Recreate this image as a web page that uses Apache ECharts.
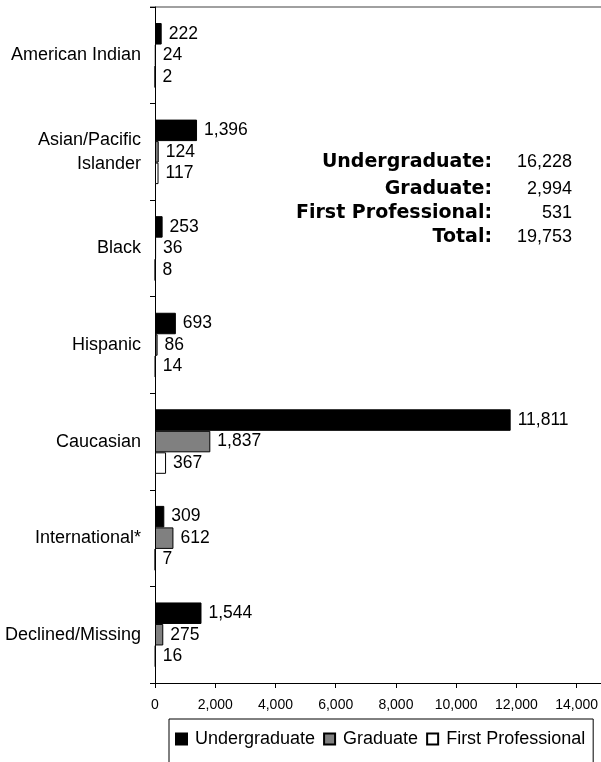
<!DOCTYPE html>
<html>
<head>
<meta charset="utf-8">
<script src="https://cdn.jsdelivr.net/npm/echarts@6/dist/echarts.min.js"></script>
<style>
  html, body { margin: 0; padding: 0; background: #fff; }
  #main { width: 601px; height: 762px; }
</style>
</head>
<body>
<div id="main"></div>
<script>
// categories, top to bottom
var categories = ['American Indian', 'Asian/Pacific\nIslander', 'Black', 'Hispanic', 'Caucasian', 'International*', 'Declined/Missing']
var undergraduate = [222, 1396, 253, 693, 11811, 309, 1544]
var graduate = [24, 124, 36, 86, 1837, 612, 275]
var firstProfessional = [2, 117, 8, 14, 367, 7, 16]

// totals box
var totalLabels = ['Undergraduate:', 'Graduate:', 'First Professional:', 'Total:']
var totalValues = ['16,228', '2,994', '531', '19,753']

var FONT = '"Liberation Sans", Arial, sans-serif'

function fmt(v) {
  return Number(v).toLocaleString('en-US')
}

function barSeries(name, data, color) {
  return {
    name: name,
    type: 'bar',
    data: data,
    barWidth: 21.5,
    barGap: '0%',
    itemStyle: { color: color, borderColor: '#000', borderWidth: 1 },
    label: {
      show: true,
      position: 'right',
      distance: 7,
      color: '#000',
      fontFamily: FONT,
      fontSize: 17.5,
      formatter: function(p) { return fmt(p.value) }
    },
    animation: false
  }
}

var myChart = echarts.init(document.getElementById('main'), null, { renderer: 'canvas' })

// totals text block
var graphics = []
var rowY = [162, 189, 213, 237]
for (var i = 0; i < totalLabels.length; i++) {
  graphics.push({
    type: 'text', x: 492, y: rowY[i],
    style: { text: totalLabels[i], align: 'right', verticalAlign: 'middle', fill: '#000',
      font: 'bold 19px "DejaVu Sans", sans-serif' }
  })
  graphics.push({
    type: 'text', x: 572, y: rowY[i],
    style: { text: totalValues[i], align: 'right', verticalAlign: 'middle', fill: '#000',
      font: '18px ' + FONT }
  })
}
// grey top border of the plot and the axis running off to the right
graphics.push({ type: 'line', shape: { x1: 150, y1: 7, x2: 601, y2: 7 }, style: { stroke: '#808080', lineWidth: 1.5 } })
graphics.push({ type: 'line', shape: { x1: 155, y1: 683.5, x2: 601, y2: 683.5 }, style: { stroke: '#000', lineWidth: 1 } })

var option = {
  backgroundColor: '#fff',
  animation: false,
  grid: { left: 155, right: 24, top: 7, bottom: 79, containLabel: false },
  legend: {
    data: ['Undergraduate', 'Graduate', 'First Professional'],
    left: 169,
    top: 719,
    orient: 'horizontal',
    icon: 'rect',
    itemWidth: 11,
    itemHeight: 11,
    itemGap: 8,
    padding: [11, 8, 40, 6],
    borderColor: '#000',
    borderWidth: 1,
    textStyle: { color: '#000', fontFamily: FONT, fontSize: 18, padding: [0, 0, 0, 3] }
  },
  xAxis: {
    type: 'value',
    min: 0,
    max: 14000,
    interval: 2000,
    splitLine: { show: false },
    axisLine: { show: true, onZero: false, lineStyle: { color: '#000', width: 1 } },
    axisTick: { show: true, length: 5, lineStyle: { color: '#000' } },
    axisLabel: {
      color: '#000', fontFamily: FONT, fontSize: 14, margin: 15,
      formatter: function(v) { return fmt(v) }
    }
  },
  yAxis: {
    type: 'category',
    data: categories,
    inverse: true,
    axisLine: { show: true, lineStyle: { color: '#000', width: 1 } },
    axisTick: { show: true, length: 5, lineStyle: { color: '#000' } },
    axisLabel: { color: '#000', fontFamily: FONT, fontSize: 18, margin: 14, lineHeight: 24, align: 'right' }
  },
  series: [
    barSeries('Undergraduate', undergraduate, '#000'),
    barSeries('Graduate', graduate, '#808080'),
    barSeries('First Professional', firstProfessional, '#fff')
  ],
  graphic: graphics
}

myChart.setOption(option, true)
window.onresize = () => {
  myChart.resize()
}
</script>
</body>
</html>
